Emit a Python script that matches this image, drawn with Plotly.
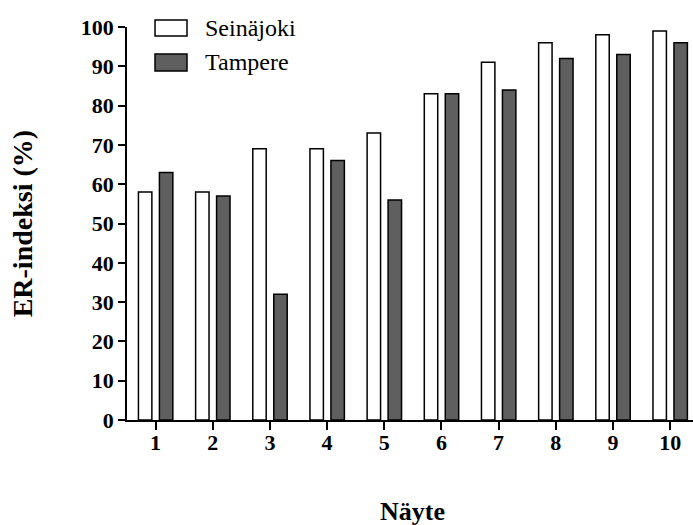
import plotly.graph_objects as go

# Samples (Näyte) and ER-index values (%) for each city
samples = [1, 2, 3, 4, 5, 6, 7, 8, 9, 10]
seinajoki = [58, 58, 69, 69, 73, 83, 91, 96, 98, 99]
tampere = [63, 57, 32, 66, 56, 83, 84, 92, 93, 96]
y_ticks = [0, 10, 20, 30, 40, 50, 60, 70, 80, 90, 100]
series_names = ["Seinäjoki", "Tampere"]

SERIF = "Liberation Serif"
DARK = "#5f5f5f"

fig = go.Figure()
fig.add_trace(go.Bar(
    x=samples, y=seinajoki, name=series_names[0],
    width=0.235, offset=-0.30,
    marker=dict(color="white", line=dict(color="black", width=1.5)),
))
fig.add_trace(go.Bar(
    x=samples, y=tampere, name=series_names[1],
    width=0.235, offset=0.067,
    marker=dict(color=DARK, line=dict(color="black", width=1.5)),
))

# Legend drawn as boxes with text labels
legend_rows = [
    (series_names[0], "white", 0.977, 1.018, 0.997),
    (series_names[1], DARK, 0.888, 0.931, 0.911),
]
for label, fill, y0, y1, ytxt in legend_rows:
    fig.add_shape(type="rect", xref="paper", yref="paper",
                  x0=0.0495, x1=0.106, y0=y0, y1=y1,
                  fillcolor=fill, line=dict(color="black", width=1.5))
    fig.add_annotation(text=label, xref="paper", yref="paper",
                       x=0.134, y=ytxt, xanchor="left", yanchor="middle",
                       showarrow=False,
                       font=dict(family=SERIF, size=24, color="black"))

# Axis titles
fig.add_annotation(text="<b>ER-indeksi (%)</b>", xref="paper", yref="paper",
                   x=-0.184, y=0.5, xanchor="center", yanchor="middle",
                   textangle=-90, showarrow=False,
                   font=dict(family=SERIF, size=28, color="black"))
fig.add_annotation(text="<b>Näyte</b>", xref="paper", yref="paper",
                   x=0.505, y=-0.232, xanchor="center", yanchor="middle",
                   showarrow=False,
                   font=dict(family=SERIF, size=26, color="black"))

fig.update_layout(
    width=693, height=525,
    margin=dict(l=127, r=0, t=27, b=105),
    plot_bgcolor="white", paper_bgcolor="white",
    showlegend=False,
    barmode="group",
    font=dict(family=SERIF, color="black"),
    xaxis=dict(
        range=[0.5, 10.4], tickmode="array", tickvals=samples,
        ticktext=[f"<b>{s}</b>" for s in samples],
        showline=True, linecolor="black", linewidth=1.5,
        ticks="outside", ticklen=8, tickwidth=1.5, tickcolor="black",
        ticklabelstandoff=-6,
        showgrid=False, zeroline=False,
        tickfont=dict(family=SERIF, size=22, color="black"),
    ),
    yaxis=dict(
        range=[0, 100], tickmode="array", tickvals=y_ticks,
        ticktext=[f"<b>{t}</b>" for t in y_ticks],
        showline=True, linecolor="black", linewidth=1.5,
        ticks="outside", ticklen=7, tickwidth=1.5, tickcolor="black",
        showgrid=False, zeroline=False,
        tickfont=dict(family=SERIF, size=22, color="black"),
    ),
)

fig.write_html("out.html")
